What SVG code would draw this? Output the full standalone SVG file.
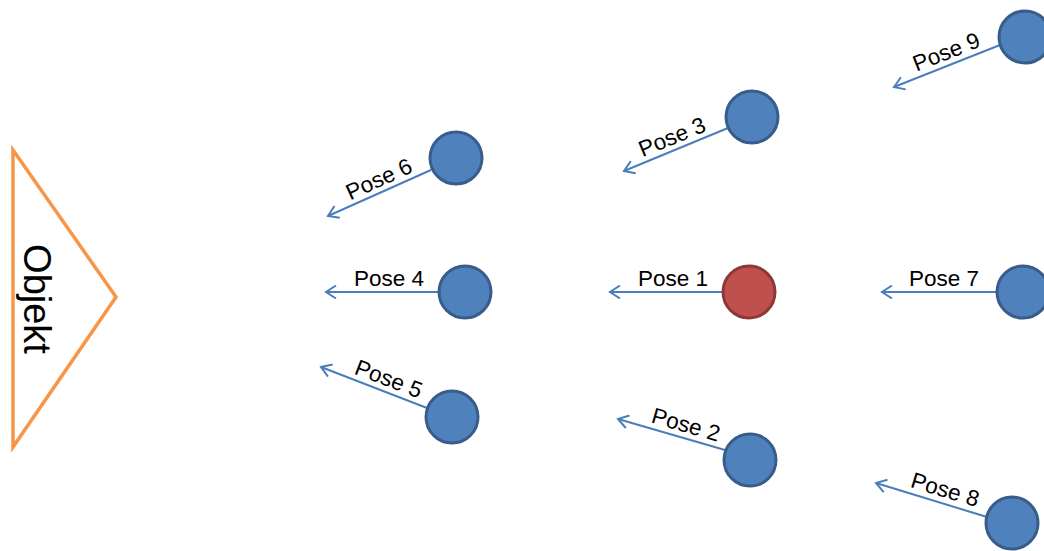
<svg xmlns="http://www.w3.org/2000/svg" width="1044" height="551" viewBox="0 0 1044 551">
  <style>
    .pose { fill: #4F81BD; stroke: #385D8A; stroke-width: 3; }
    .pose.main { fill: #C0504D; stroke: #8C3836; }
    .dir { stroke: #4A7EBB; stroke-width: 2; fill: none; marker-end: url(#open); }
    .lbl { font-family: "Liberation Sans", Arial, sans-serif; font-size: 22.5px; fill: #000; text-anchor: middle; }
    .obj { fill: #fff; stroke: #F79646; stroke-width: 3.5; stroke-linejoin: miter; }
    .objlbl { font-family: "Liberation Sans", Arial, sans-serif; font-size: 38px; fill: #000; text-anchor: middle; }
  </style>
  <defs>
    <!-- open chevron arrowhead -->
    <marker id="open" viewBox="-13 -9 16 18" markerWidth="16" markerHeight="18" refX="0" refY="0" orient="auto" markerUnits="userSpaceOnUse">
      <path d="M-10,-6.5 L0,0 L-10,6.5" fill="none" stroke="#4A7EBB" stroke-width="2"/>
    </marker>
  </defs>
  <rect width="1044" height="551" fill="#fff"/>

  <!-- target object -->
  <g id="objekt">
    <path class="obj" d="M13,150 L116,297 L13,447 Z"/>
    <text class="objlbl" transform="translate(24,299) rotate(90)" x="0" y="0">Objekt</text>
  </g>

  <!-- viewing directions -->
  <g id="connectors">
    <line class="dir" x1="722" y1="292" x2="610" y2="292"/>
    <line class="dir" x1="438" y1="292" x2="326" y2="292"/>
    <line class="dir" x1="996" y1="292" x2="882" y2="292"/>
    <line class="dir" x1="431" y1="170" x2="328" y2="216"/>
    <line class="dir" x1="1000" y1="45" x2="894" y2="87"/>
    <line class="dir" x1="728" y1="128" x2="624" y2="171"/>
    <line class="dir" x1="427" y1="408" x2="321" y2="367"/>
    <line class="dir" x1="725" y1="450" x2="618" y2="419"/>
    <line class="dir" x1="987" y1="517" x2="876" y2="483"/>
  </g>

  <g id="pose1">
    <circle class="pose main" cx="749" cy="292" r="26"/>
    <text class="lbl" x="673" y="286" textLength="70">Pose 1</text>
  </g>
  <g id="pose2">
    <circle class="pose" cx="750" cy="460" r="26"/>
    <text class="lbl" x="684" y="432" textLength="70" transform="rotate(16 684 432)">Pose 2</text>
  </g>
  <g id="pose3">
    <circle class="pose" cx="752" cy="117" r="26"/>
    <text class="lbl" x="675" y="144" textLength="70" transform="rotate(-22.3 675 144)">Pose 3</text>
  </g>
  <g id="pose4">
    <circle class="pose" cx="465" cy="292" r="26"/>
    <text class="lbl" x="389" y="286" textLength="70">Pose 4</text>
  </g>
  <g id="pose5">
    <circle class="pose" cx="452" cy="417" r="26"/>
    <text class="lbl" x="386" y="386" textLength="70" transform="rotate(21 386 386)">Pose 5</text>
  </g>
  <g id="pose6">
    <circle class="pose" cx="456" cy="158" r="26"/>
    <text class="lbl" x="382" y="186" textLength="70" transform="rotate(-24.5 382 186)">Pose 6</text>
  </g>
  <g id="pose7">
    <circle class="pose" cx="1023" cy="292" r="26"/>
    <text class="lbl" x="944" y="286" textLength="70">Pose 7</text>
  </g>
  <g id="pose8">
    <circle class="pose" cx="1012" cy="523" r="26"/>
    <text class="lbl" x="943" y="497" textLength="70" transform="rotate(17 943 497)">Pose 8</text>
  </g>
  <g id="pose9">
    <circle class="pose" cx="1025" cy="37" r="26"/>
    <text class="lbl" x="949" y="59" textLength="70" transform="rotate(-21.4 949 59)">Pose 9</text>
  </g>
</svg>
